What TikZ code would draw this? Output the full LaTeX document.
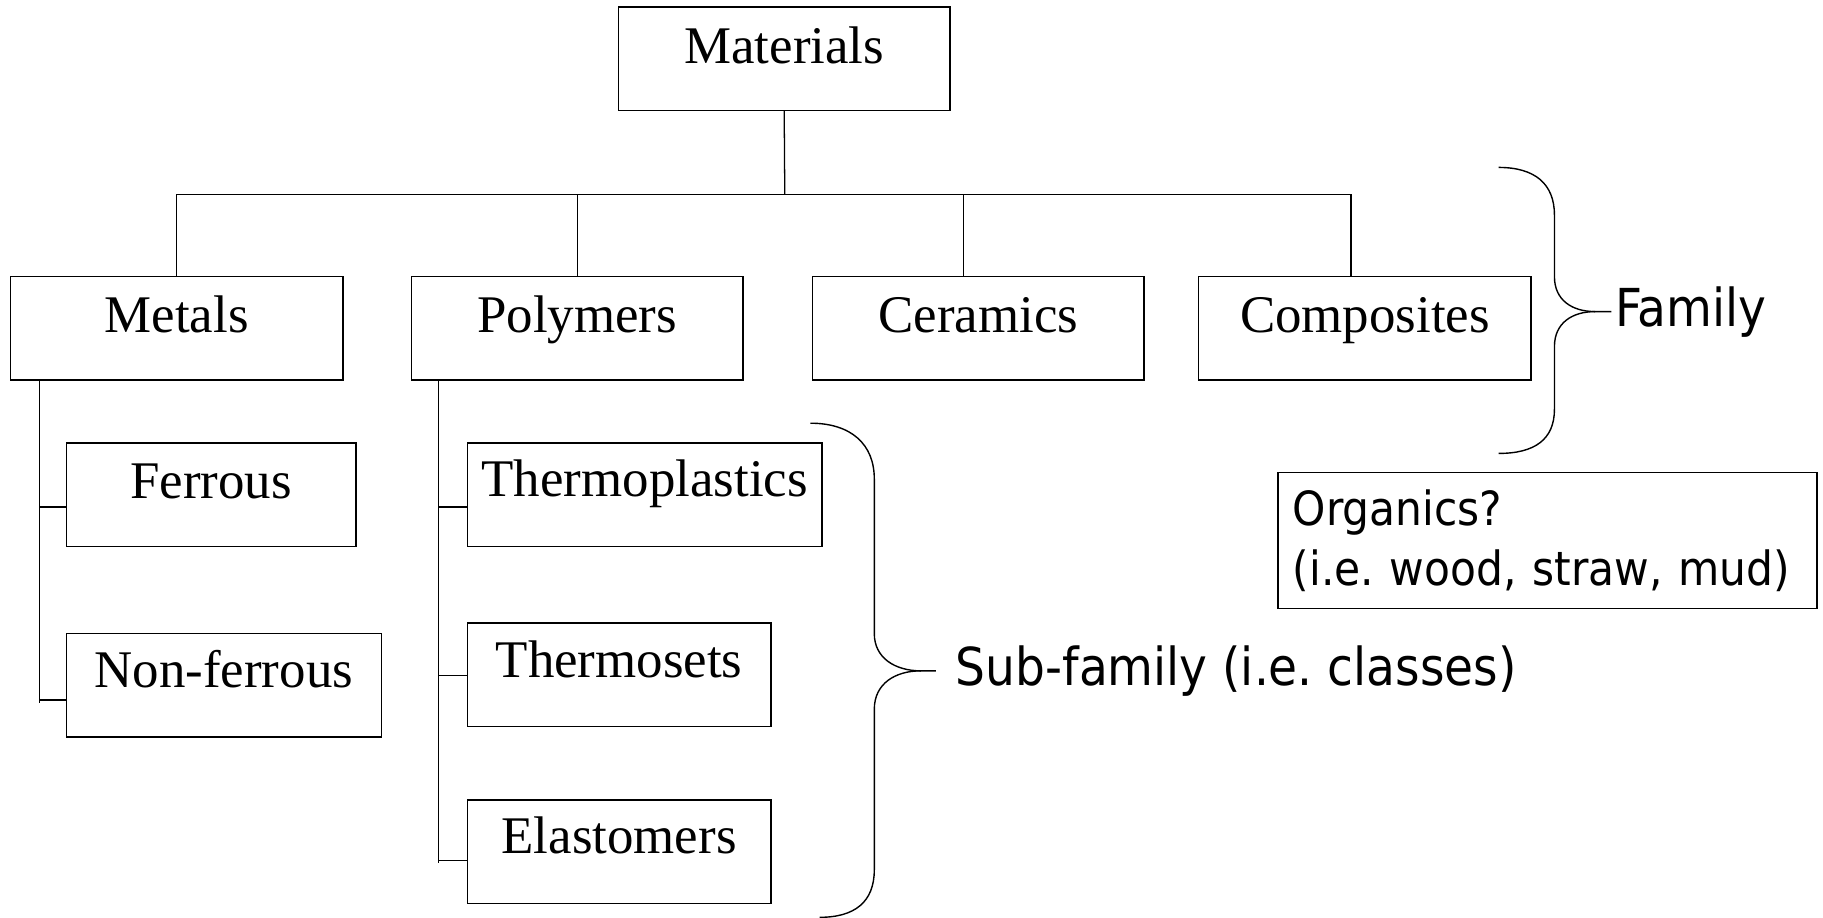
\documentclass[tikz,border=0pt]{standalone}
\usepackage{fontspec}
\setmainfont{Liberation Serif}
\newfontfamily\labelsans{DejaVu Sans Condensed}
\frenchspacing
\begin{document}
\begin{tikzpicture}[x=1pt,y=-1pt,
  box/.style={draw, line width=1.3pt, inner sep=0pt, minimum height=89pt,
    font=\fontsize{45.5}{52}\selectfont, text height=0.69em, text depth=0.3em},
  lowtext/.style={text depth=0em},
  link/.style={line width=1.1pt},
  brace/.style={line width=1.2pt},
  note/.style={font=\labelsans\fontsize{45}{52}\selectfont, inner sep=0pt}]
\useasboundingbox (0,0) rectangle (1568,789);

% top level and families
\node[box, lowtext, text height=0.9em, minimum width=285pt] (mat) at (674.5,50.5) {Materials};
\node[box, lowtext, minimum width=286pt] (met) at (152,282.5) {Metals};
\node[box, lowtext, minimum width=285pt] (pol) at (496.5,282.5) {Polymers};
\node[box, lowtext, minimum width=285pt] (cer) at (841.5,282.5) {Ceramics};
\node[box, lowtext, minimum width=286pt] (com) at (1174,282.5) {Composites};

% sub-families
\node[box, lowtext, minimum width=249pt] (fer) at (181.5,425.5) {Ferrous};
\node[box, minimum width=271pt] (nfe) at (192.5,589.5) {Non-ferrous};
\node[box, minimum width=305pt] (tpl) at (554.5,425.5) {Thermoplastics};
\node[box, minimum width=261pt] (tse) at (532.5,580.5) {Thermosets};
\node[box, minimum width=261pt] (ela) at (532.5,732.5) {Elastomers};

% tree connectors
\coordinate (bus) at (675,167);
\coordinate (cerdrop) at (829,238);
\coordinate (comdrop) at (1162,238);
\draw[link] (mat.south) -- (bus);
\draw[link] (met.north) -- (met.north |- bus) -- (comdrop |- bus) -- (comdrop);
\draw[link] (pol.north) -- (pol.north |- bus);
\draw[link] (cerdrop) -- (cerdrop |- bus);

% metals branch
\coordinate (mtop) at (34,327);
\coordinate (m1) at (34,436);
\coordinate (m2) at (34,602);
\coordinate (mend) at (34,605);
\draw[link] (mtop) -- (mend);
\draw[link] (m1) -- (fer.west |- m1);
\draw[link] (m2) -- (nfe.west |- m2);

% polymers branch
\coordinate (ptop) at (377,327);
\coordinate (p1) at (377,436);
\coordinate (p2) at (377,581);
\coordinate (p3) at (377,740);
\coordinate (pend) at (377,742);
\draw[link] (ptop) -- (pend);
\draw[link] (p1) -- (tpl.west |- p1);
\draw[link] (p2) -- (tse.west |- p2);
\draw[link] (p3) -- (ela.west |- p3);

% family brace
\draw[brace] (1289,144) .. controls (1320,144) and (1337,158) .. (1337,185)
  -- (1337,238) .. controls (1337,258) and (1352,268) .. (1372,268) -- (1386,268);
\draw[brace] (1372,268) .. controls (1352,268) and (1337,278) .. (1337,298)
  -- (1337,352) .. controls (1337,378) and (1320,390) .. (1289,390);
\node[note, anchor=west] (fam) at (1389,268) {Family};

% sub-family brace
\draw[brace] (697,364) .. controls (732,364) and (752,382) .. (752,412)
  -- (752,545) .. controls (752,566) and (770,577) .. (792,577) -- (805,577);
\draw[brace] (792,577) .. controls (770,577) and (752,588) .. (752,610)
  -- (752,748) .. controls (752,776) and (735,789) .. (705,789);
\node[note, anchor=west] (sub) at (822,577) {Sub-family (i.e. classes)};

% organics note
\node[draw, line width=1.3pt, minimum width=464pt, minimum height=117pt,
  text width=438pt, align=left, inner sep=0pt,
  font=\labelsans\fontsize{40.5}{52}\selectfont] (org) at (1331,465)
  {Organics?\\(i.e. wood, straw, mud)};
\end{tikzpicture}
\end{document}
